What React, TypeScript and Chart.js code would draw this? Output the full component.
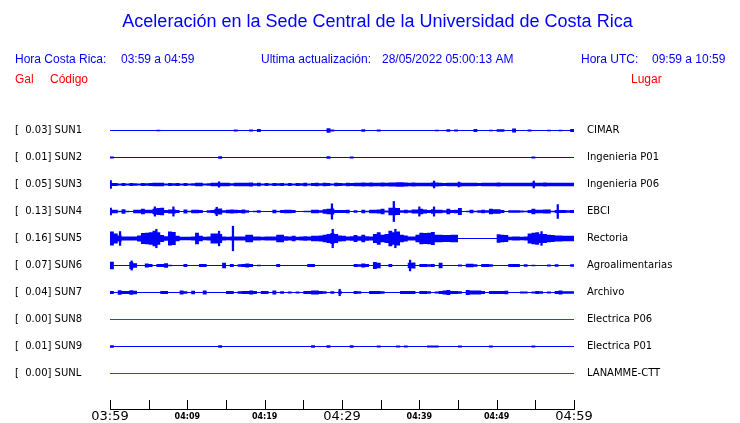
import React, { useEffect, useRef } from 'react';
import { Chart, registerables } from 'chart.js';

Chart.register(...registerables);

// ---------------- data ----------------
const TITLE = 'Aceleración en la Sede Central de la Universidad de Costa Rica';
const HEADER_LOCAL = ['Hora Costa Rica:', '03:59 a 04:59'];
const HEADER_UPDATE = ['Ultima actualización:', '28/05/2022 05:00:13 AM'];
const HEADER_UTC = ['Hora UTC:', '09:59 a 10:59'];
const COLUMN_HEADERS = ['Gal', 'Código', 'Lugar'];

const STATION_CODES = ['SUN1', 'SUN2', 'SUN3', 'SUN4', 'SUN5', 'SUN6', 'SUN7', 'SUN8', 'SUN9', 'SUNL'];
const STATION_NAMES = ['CIMAR', 'Ingenieria P01', 'Ingenieria P06', 'EBCI', 'Rectoria', 'Agroalimentarias', 'Archivo', 'Electrica P06', 'Electrica P01', 'LANAMME-CTT'];
const PEAK_GAL = [0.03, 0.01, 0.05, 0.13, 0.16, 0.07, 0.04, 0.0, 0.01, 0.0];

// envelope half-amplitude (Gal) per 30-second bin, 03:59 -> 04:59
const BIN_MINUTES = 0.5;
const SUN1 = [
  0, 0, 0, 0, 0, 0, 0, 0, 0, 0,
  0, 0, 0.01, 0, 0, 0, 0, 0, 0, 0,
  0, 0, 0, 0, 0, 0, 0, 0, 0, 0,
  0, 0, 0.012, 0, 0, 0, 0.012, 0, 0.018, 0,
  0, 0, 0, 0, 0, 0, 0, 0, 0, 0,
  0, 0, 0, 0, 0, 0, 0.03, 0.012, 0, 0,
  0, 0, 0, 0, 0, 0.015, 0, 0, 0, 0.012,
  0, 0, 0, 0, 0, 0, 0, 0, 0, 0,
  0, 0, 0, 0, 0.01, 0, 0, 0.015, 0, 0.012,
  0, 0, 0, 0, 0.018, 0, 0, 0, 0.01, 0,
  0.015, 0.015, 0, 0, 0.025, 0, 0, 0, 0.012, 0,
  0, 0, 0, 0.01, 0, 0, 0.01, 0, 0, 0.018,
];
const SUN2 = [
  0.012, 0, 0, 0, 0, 0, 0, 0, 0, 0,
  0, 0, 0, 0, 0, 0, 0, 0, 0, 0,
  0, 0, 0, 0, 0, 0, 0, 0, 0.015, 0,
  0, 0, 0, 0, 0, 0, 0.008, 0, 0, 0,
  0, 0, 0, 0, 0, 0, 0, 0, 0, 0,
  0, 0, 0, 0, 0, 0, 0.015, 0, 0, 0,
  0, 0, 0.012, 0, 0, 0, 0, 0, 0, 0.008,
  0, 0, 0, 0.008, 0, 0, 0.008, 0, 0, 0,
  0, 0, 0, 0, 0, 0, 0, 0, 0, 0,
  0, 0, 0, 0, 0, 0, 0, 0, 0, 0,
  0, 0, 0, 0, 0, 0, 0, 0, 0, 0.012,
  0, 0, 0, 0, 0, 0, 0, 0, 0, 0,
];
const SUN3 = [
  0.02, 0.02, 0.014, 0.02, 0.014, 0.02, 0.017, 0.014, 0.02, 0.017,
  0.02, 0.024, 0.024, 0.022, 0.014, 0.02, 0.017, 0.02, 0.014, 0.02,
  0.012, 0.017, 0.024, 0.024, 0.014, 0.017, 0.022, 0.022, 0.022, 0.022,
  0.022, 0.017, 0.022, 0.024, 0.024, 0.024, 0.026, 0.017, 0.022, 0.014,
  0.02, 0.014, 0.02, 0.017, 0.02, 0.014, 0.02, 0.012, 0.02, 0.017,
  0.022, 0.014, 0.02, 0.022, 0.017, 0.022, 0.02, 0.014, 0.022, 0.02,
  0.017, 0.022, 0.02, 0.022, 0.024, 0.026, 0.024, 0.026, 0.024, 0.024,
  0.026, 0.024, 0.026, 0.026, 0.03, 0.028, 0.026, 0.024, 0.026, 0.024,
  0.024, 0.024, 0.022, 0.026, 0.026, 0.024, 0.02, 0.024, 0.024, 0.022,
  0.026, 0.024, 0.024, 0.022, 0.024, 0.02, 0.024, 0.024, 0.022, 0.024,
  0.026, 0.024, 0.022, 0.024, 0.024, 0.024, 0.022, 0.024, 0.024, 0.026,
  0.024, 0.024, 0.026, 0.024, 0.024, 0.024, 0.022, 0.024, 0.024, 0.024,
];
const SUN4 = [
  0.022, 0.022, 0.01, 0.028, 0.01, 0.005, 0.022, 0.022, 0.035, 0.022,
  0.022, 0.035, 0.045, 0.05, 0.02, 0.025, 0.025, 0.02, 0.008, 0.025,
  0.01, 0.022, 0.022, 0.02, 0.008, 0.015, 0.02, 0.035, 0.04, 0.015,
  0.022, 0.025, 0.022, 0.02, 0.025, 0.015, 0.008, 0.01, 0.015, 0.008,
  0.005, 0.008, 0.022, 0.01, 0.02, 0.022, 0.022, 0.02, 0.008, 0.005,
  0.01, 0.01, 0.022, 0.022, 0.015, 0.028, 0.035, 0.04, 0.02, 0.02,
  0.02, 0.022, 0.005, 0.015, 0.005, 0.022, 0.01, 0.022, 0.022, 0.025,
  0.035, 0.012, 0.05, 0.05, 0.045, 0.015, 0.022, 0.015, 0.025, 0.025,
  0.035, 0.025, 0.02, 0.03, 0.022, 0.022, 0.015, 0.035, 0.02, 0.022,
  0.045, 0.008, 0.01, 0.022, 0.01, 0.015, 0.022, 0.015, 0.035, 0.03,
  0.028, 0.02, 0.008, 0.015, 0.015, 0.015, 0.012, 0.01, 0.02, 0.035,
  0.022, 0.022, 0.025, 0.025, 0.01, 0.02, 0.02, 0.018, 0.015, 0.018,
];
const SUN5 = [
  0.09, 0.065, 0.04, 0.025, 0.025, 0.025, 0.025, 0.04, 0.07, 0.075,
  0.08, 0.1, 0.08, 0.045, 0.03, 0.09, 0.085, 0.035, 0.022, 0.022,
  0.022, 0.025, 0.075, 0.035, 0.022, 0.025, 0.065, 0.065, 0.06, 0.025,
  0.022, 0.025, 0.025, 0.025, 0.025, 0.05, 0.05, 0.025, 0.025, 0.022,
  0.025, 0.025, 0.025, 0.05, 0.05, 0.03, 0.025, 0.035, 0.022, 0.025,
  0.03, 0.025, 0.035, 0.035, 0.04, 0.05, 0.06, 0.07, 0.06, 0.04,
  0.035, 0.025, 0.03, 0.045, 0.03, 0.05, 0.03, 0.025, 0.06, 0.08,
  0.05, 0.06, 0.1, 0.08, 0.09, 0.05, 0.04, 0.025, 0.025, 0.05,
  0.075, 0.07, 0.075, 0.085, 0.05, 0.05, 0.045, 0.045, 0.05, 0.05,
  0, 0, 0, 0, 0, 0, 0, 0, 0, 0,
  0.055, 0.05, 0.045, 0.022, 0.025, 0.025, 0.022, 0.025, 0.065, 0.075,
  0.08, 0.06, 0.06, 0.05, 0.045, 0.04, 0.04, 0.035, 0.035, 0.035,
];
const SUN6 = [
  0.05, 0.005, 0, 0, 0, 0.045, 0.03, 0, 0, 0.026,
  0.018, 0, 0.018, 0.018, 0.03, 0.01, 0, 0, 0, 0.018,
  0, 0, 0, 0.018, 0.018, 0, 0, 0, 0.008, 0.035,
  0, 0.018, 0, 0.015, 0.018, 0.025, 0.02, 0, 0.01, 0,
  0, 0.008, 0, 0.018, 0, 0, 0, 0, 0, 0,
  0, 0.018, 0.018, 0, 0, 0, 0.008, 0, 0, 0,
  0, 0, 0, 0.018, 0.015, 0.025, 0.02, 0, 0.045, 0.035,
  0, 0, 0.018, 0, 0.008, 0, 0, 0.035, 0.04, 0,
  0.018, 0.02, 0.015, 0.02, 0, 0.035, 0, 0, 0, 0,
  0.012, 0, 0.022, 0.022, 0.015, 0, 0.018, 0.018, 0.015, 0,
  0, 0, 0, 0.018, 0.018, 0.018, 0, 0.015, 0, 0.01,
  0, 0.008, 0, 0.012, 0, 0.015, 0, 0, 0, 0.015,
];
const SUN7 = [
  0.018, 0, 0.03, 0.02, 0.018, 0.03, 0.022, 0, 0, 0,
  0, 0, 0, 0.018, 0.018, 0, 0, 0, 0.026, 0.015,
  0, 0.022, 0, 0, 0.026, 0, 0, 0, 0, 0.008,
  0.018, 0.018, 0, 0.015, 0.018, 0.018, 0.026, 0.018, 0, 0.018,
  0.018, 0, 0.026, 0, 0.015, 0, 0.012, 0, 0.012, 0,
  0.02, 0.02, 0.025, 0.025, 0.02, 0.015, 0, 0.015, 0, 0.015,
  0, 0, 0, 0.018, 0.015, 0, 0, 0.018, 0.018, 0.018,
  0.015, 0.005, 0.008, 0, 0, 0.018, 0.02, 0.02, 0.018, 0,
  0.018, 0.018, 0.015, 0, 0.012, 0.018, 0.025, 0.032, 0.02, 0.018,
  0.015, 0, 0.032, 0.025, 0.025, 0.025, 0.02, 0, 0.018, 0.018,
  0.018, 0.018, 0.022, 0.008, 0, 0, 0.012, 0.012, 0, 0.012,
  0.018, 0.015, 0, 0.012, 0, 0.018, 0.026, 0.015, 0.015, 0.015,
];
const SUN8: number[] = [];
const SUN9 = [
  0.015, 0, 0, 0, 0, 0, 0, 0, 0, 0,
  0, 0, 0, 0, 0, 0, 0, 0, 0, 0,
  0, 0, 0, 0, 0, 0, 0, 0.008, 0.015, 0,
  0, 0, 0, 0, 0, 0, 0, 0, 0, 0,
  0, 0, 0, 0, 0, 0, 0, 0, 0, 0,
  0, 0, 0.015, 0, 0, 0, 0.015, 0, 0, 0,
  0, 0, 0.015, 0, 0, 0, 0, 0, 0, 0.012,
  0.006, 0, 0.006, 0.006, 0.012, 0.006, 0.012, 0.008, 0, 0,
  0, 0, 0.012, 0.012, 0.012, 0, 0, 0, 0, 0,
  0.012, 0, 0, 0.006, 0, 0, 0, 0.006, 0.012, 0,
  0, 0, 0, 0, 0, 0, 0, 0, 0, 0.012,
  0, 0.006, 0.008, 0, 0.008, 0, 0.008, 0.006, 0, 0,
];
const SUNL: number[] = [];
const TRACES = [SUN1, SUN2, SUN3, SUN4, SUN5, SUN6, SUN7, SUN8, SUN9, SUNL];

// narrow peaks: [minute, half-amplitude Gal]
const SUN3_PEAKS = [[0.1, 0.05], [14.1, 0.035], [41.9, 0.045], [45.1, 0.032], [54.8, 0.045]];
const SUN4_PEAKS = [[0.1, 0.045], [5.8, 0.06], [8.2, 0.06], [13.8, 0.055], [28.7, 0.1], [36.7, 0.13], [40.0, 0.06], [41.9, 0.06], [57.9, 0.09]];
const SUN5_PEAKS = [[1.3, 0.09], [6.0, 0.12], [14.1, 0.095], [15.9, 0.16], [28.8, 0.12], [36.9, 0.12], [55.8, 0.09]];
const SUN6_PEAKS = [[2.8, 0.06], [38.8, 0.07]];
const SUN7_PEAKS = [[29.7, 0.042]];
const PEAKS = [[], [], SUN3_PEAKS, SUN4_PEAKS, SUN5_PEAKS, SUN6_PEAKS, SUN7_PEAKS, [], [], []];

const WINDOW_MINUTES = 60;
const X_TICK_MINUTES = [0, 5, 10, 15, 20, 25, 30, 35, 40, 45, 50, 55, 60];
const X_TICK_LABELS = ['03:59', '', '04:09', '', '04:19', '', '04:29', '', '04:39', '', '04:49', '', '04:59'];
const MAJOR_TICK_LABELS = ['03:59', '04:29', '04:59'];

// ---------------- display constants ----------------
const BLUE = '#0000ff';
const RED = '#ff0000';
const ROW_PX = 27;
const PX_PER_GAL = 77;
const GAIN = PX_PER_GAL / ROW_PX; // rows per Gal
const Y_MIN = -1 - 0.5 / ROW_PX;
const Y_MAX = Y_MIN + 306 / ROW_PX;
const ARIAL = "'Liberation Sans', Arial, sans-serif";
const DEJAVU = "'DejaVu Sans', sans-serif";

const overlayPlugin = {
  id: 'overlay',
  afterDraw(chart: any) {
    const { ctx, chartArea, scales } = chart;
    const xs = scales.x;
    ctx.save();
    ctx.strokeStyle = '#000';
    ctx.lineWidth = 1;
    ctx.beginPath();
    xs.ticks.forEach((t: any) => {
      const px = Math.round(xs.getPixelForValue(t.value)) + 0.5;
      ctx.moveTo(px, chartArea.bottom - 9);
      ctx.lineTo(px, chartArea.bottom + 0.5);
    });
    ctx.stroke();

    ctx.textBaseline = 'middle';
    ctx.textAlign = 'left';
    ctx.font = `12px ${ARIAL}`;
    ctx.fillStyle = BLUE;
    ctx.fillText(HEADER_LOCAL[0], 15, 60);
    ctx.fillText(HEADER_LOCAL[1], 121, 60);
    ctx.fillText(HEADER_UPDATE[0], 261, 60);
    ctx.fillText(HEADER_UPDATE[1], 382, 60);
    ctx.fillText(HEADER_UTC[0], 581, 60);
    ctx.fillText(HEADER_UTC[1], 652, 60);
    ctx.fillStyle = RED;
    ctx.fillText(COLUMN_HEADERS[0], 15, 80);
    ctx.fillText(COLUMN_HEADERS[1], 50, 80);
    ctx.fillText(COLUMN_HEADERS[2], 631, 80);
    ctx.restore();
  },
};

function buildDatasets() {
  const datasets: any[] = [];
  const peakBars: any[] = [];
  TRACES.forEach((trace, k) => {
    const color = PEAK_GAL[k] === 0 ? RED : BLUE;
    datasets.push({
      type: 'line',
      data: [{ x: 0, y: k }, { x: WINDOW_MINUTES, y: k }],
      borderColor: color,
      borderWidth: 1,
      pointRadius: 0,
      fill: false,
    });
    if (trace.length) {
      [1, -1].forEach((sign) => {
        const pts = trace.map((a, i) => ({ x: i * BIN_MINUTES, y: k + sign * a * GAIN }));
        pts.push({ x: trace.length * BIN_MINUTES, y: k + sign * trace[trace.length - 1] * GAIN });
        datasets.push({
          type: 'line',
          data: pts,
          borderColor: 'rgba(0,0,0,0)',
          borderWidth: 0,
          backgroundColor: BLUE,
          pointRadius: 0,
          stepped: 'before',
          fill: { value: k },
        });
      });
    }
    (PEAKS[k] as number[][]).forEach(([t, a]) => {
      peakBars.push({ x: t, y: [k - a * GAIN, k + a * GAIN] });
    });
  });
  datasets.push({
    type: 'bar',
    data: peakBars,
    backgroundColor: BLUE,
    borderWidth: 0,
    barThickness: 1.6,
    grouped: false,
  });
  return datasets;
}

const noPad = (s: any) => {
  s.paddingTop = 0;
  s.paddingBottom = 0;
};

export default function App() {
  const canvasRef = useRef<HTMLCanvasElement | null>(null);

  useEffect(() => {
    if (!canvasRef.current) return;
    const rowTicks = (s: any) => {
      s.ticks = STATION_CODES.map((_, k) => ({ value: k }));
    };
    const chart = new Chart(canvasRef.current, {
      type: 'line',
      data: { datasets: buildDatasets() },
      plugins: [overlayPlugin],
      options: {
        responsive: false,
        animation: false,
        devicePixelRatio: 1,
        layout: { padding: { left: 15, right: 0, top: 0, bottom: 0 } },
        events: [],
        plugins: {
          legend: { display: false },
          tooltip: { enabled: false },
          title: {
            display: true,
            text: TITLE,
            color: BLUE,
            font: { family: ARIAL, size: 18, weight: 'normal' },
            padding: { top: 11.2, bottom: 70.2 },
          },
        },
        scales: {
          x: {
            type: 'linear',
            offset: false,
            min: 0,
            max: WINDOW_MINUTES,
            afterBuildTicks: (s: any) => {
              s.ticks = X_TICK_MINUTES.map((v) => ({ value: v }));
            },
            afterFit: (s: any) => {
              s.height = 14;
              noPad(s);
            },
            grid: { display: false, drawTicks: false, offset: false },
            border: { display: true, color: '#000', width: 1 },
            ticks: {
              autoSkip: false,
              maxRotation: 0,
              padding: 0,
              color: '#000',
              callback: (_v: any, i: number) => X_TICK_LABELS[i],
              font: (ctx: any) =>
                MAJOR_TICK_LABELS.includes(X_TICK_LABELS[ctx.index])
                  ? { family: DEJAVU, size: 13, lineHeight: 1.2 }
                  : { family: DEJAVU, size: 8, weight: 'bold', lineHeight: 1.95 },
            },
          },
          y: {
            type: 'linear',
            position: 'left',
            reverse: true,
            min: Y_MIN,
            max: Y_MAX,
            afterBuildTicks: rowTicks,
            afterFit: (s: any) => {
              s.width = 95;
              noPad(s);
            },
            grid: { display: false, drawTicks: false },
            border: { display: false },
            ticks: {
              crossAlign: 'far',
              padding: 0,
              color: '#000',
              font: { family: DEJAVU, size: 10 },
              callback: (v: any) => {
                const k = Math.round(Number(v));
                return `[  ${PEAK_GAL[k].toFixed(2)}] ${STATION_CODES[k]}`;
              },
            },
          },
          y2: {
            type: 'linear',
            position: 'right',
            reverse: true,
            min: Y_MIN,
            max: Y_MAX,
            afterBuildTicks: rowTicks,
            afterFit: (s: any) => {
              s.width = 166;
              noPad(s);
            },
            grid: { display: false, drawTicks: true, tickLength: 13 },
            border: { display: false },
            ticks: {
              padding: 0,
              color: '#000',
              font: { family: DEJAVU, size: 10 },
              callback: (v: any) => STATION_NAMES[Math.round(Number(v))],
            },
          },
        },
      } as any,
    });
    return () => chart.destroy();
  }, []);

  return (
    <div style={{ position: 'absolute', left: 0, top: 0, width: 740, height: 423, background: '#fff' }}>
      <canvas ref={canvasRef} width={740} height={423} style={{ display: 'block' }} />
    </div>
  );
}
